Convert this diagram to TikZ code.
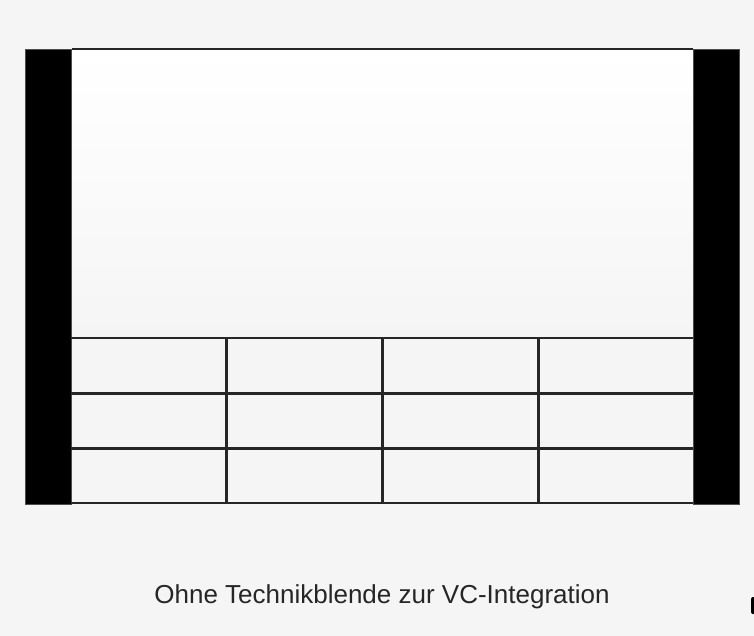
\documentclass[tikz,border=0pt]{standalone}
\usepackage{fontspec}
\setmainfont{Liberation Sans}
\definecolor{bg}{HTML}{F5F5F5}
\definecolor{txt}{HTML}{262626}
\begin{document}
\begin{tikzpicture}[x=1pt,y=-1pt,
  bar/.style={fill=black,draw=black!70,line width=0.8pt},
  gridline/.style={draw=black!85,line width=2.2pt},
  caption/.style={text=txt,font=\fontsize{26}{30}\selectfont,inner sep=0pt,anchor=base}]
\useasboundingbox (0,0) rectangle (754,636);
\fill[bg] (0,0) rectangle (754,636);
% screen
\shade[top color=white,bottom color=bg] (71,49) rectangle (693,338);
\fill[bg] (71,338) rectangle (693,503);
% bars
\node[bar,minimum width=46pt,minimum height=455pt,inner sep=0pt,anchor=north west] (lbar) at (25,49) {};
\node[bar,minimum width=46pt,minimum height=455pt,inner sep=0pt,anchor=north west] (rbar) at (693,49) {};
% top border
\draw[gridline] (lbar.north east) -- (rbar.north west);
% grid
\foreach \y in {338,393.5,448.5,503}
  \draw[gridline] (71,\y) -- (693,\y);
\foreach \x in {226.5,382.5,538.5}
  \draw[gridline] (\x,338) -- (\x,503);
% caption
\node[caption] (cap) at (382,603) {Ohne Technikblende zur VC-Integration};
% partial mark at right edge
\fill[black,rounded corners=2pt] (751,597) rectangle (757,614);
\end{tikzpicture}
\end{document}
